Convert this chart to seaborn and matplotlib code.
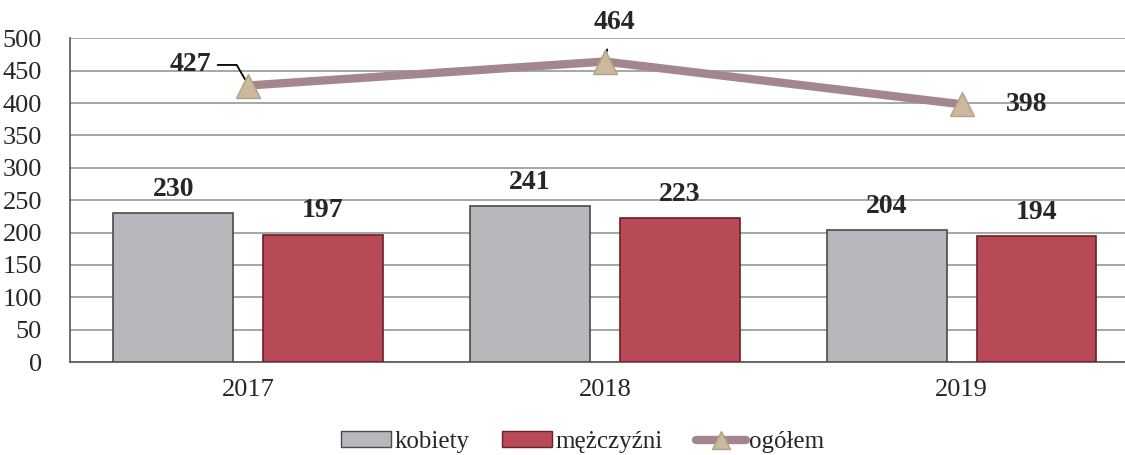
import numpy as np
import pandas as pd
import matplotlib
matplotlib.use("Agg")
import matplotlib.pyplot as plt
import seaborn as sns
from matplotlib.patches import Patch
from matplotlib.lines import Line2D

lata = ["2017", "2018", "2019"]
kobiety = [230, 241, 204]
mezczyzni = [197, 223, 194]
ogolem = [427, 464, 398]

kolor_k = "#b8b7bc"
kolor_m = "#b74a56"
kolor_linia = "#a4868f"
kolor_znacznik = "#cbb99b"

df = pd.DataFrame({
    "rok": lata * 2,
    "wartosc": kobiety + mezczyzni,
    "plec": ["kobiety"] * 3 + ["mężczyźni"] * 3,
})

sns.set_style("white")
plt.rcParams["font.family"] = ["Liberation Serif", "DejaVu Serif"]

fig = plt.figure(figsize=(11.25, 4.55), dpi=100)
ax = fig.add_axes([0.062, 0.204, 0.945, 0.712])

sns.barplot(data=df, x="rok", y="wartosc", hue="plec",
            palette=[kolor_k, kolor_m], saturation=1, width=0.84, gap=0.2,
            ax=ax, legend=False, zorder=3)
krawedzie = ["#4a4a4e", "#6a1f2a"]
for i, cont in enumerate(ax.containers):
    for b in cont:
        b.set_edgecolor(krawedzie[i])
        b.set_linewidth(1.2)
    ax.bar_label(cont, padding=8, fontsize=20, fontweight="bold")

x_pos = np.arange(len(lata))
sns.lineplot(x=x_pos, y=ogolem, ax=ax, color=kolor_linia, linewidth=6,
             marker="^", markersize=17, markerfacecolor=kolor_znacznik,
             markeredgecolor="#b59f86", markeredgewidth=1, zorder=5)

# etykiety linii ogółem
ax.annotate(str(ogolem[0]), xy=(x_pos[0] - 0.005, ogolem[0] + 6),
            xytext=(-40, 12), textcoords="offset points",
            ha="center", va="center", fontsize=20, fontweight="bold",
            arrowprops=dict(arrowstyle="-", color="black", lw=1.3,
                            shrinkA=2, shrinkB=2,
                            connectionstyle="angle,angleA=0,angleB=120,rad=0"))
ax.annotate(str(ogolem[1]), xy=(x_pos[1], ogolem[1] + 6),
            xytext=(7, 25), textcoords="offset points",
            ha="center", va="center", fontsize=20, fontweight="bold",
            arrowprops=dict(arrowstyle="-", color="black", lw=1.3,
                            shrinkA=8, shrinkB=1))
ax.annotate(str(ogolem[2]), xy=(x_pos[2], ogolem[2]),
            xytext=(47, 0), textcoords="offset points",
            ha="center", va="center", fontsize=20, fontweight="bold")

ax.set_ylim(0, 500)
ax.set_yticks(range(0, 501, 50))
ax.set_xlim(-0.5, 2.48)
ax.yaxis.grid(True, color="#8e8e8e", linewidth=1.1, zorder=0)
ax.set_axisbelow(True)
ax.set_xlabel("")
ax.set_ylabel("")
ax.tick_params(axis="y", labelsize=19, length=0, pad=20)
ax.tick_params(axis="x", labelsize=19, length=0, pad=12)
for s in ["top", "right"]:
    ax.spines[s].set_visible(False)
ax.spines["left"].set_color("#555555")
ax.spines["bottom"].set_color("#555555")
ax.spines["left"].set_linewidth(1.2)
ax.spines["bottom"].set_linewidth(1.2)

uchwyty = [
    Patch(facecolor=kolor_k, edgecolor=krawedzie[0], label="kobiety"),
    Patch(facecolor=kolor_m, edgecolor=krawedzie[1], label="mężczyźni"),
    Line2D([0], [0], color=kolor_linia, linewidth=6, marker="^",
           markersize=13, markerfacecolor=kolor_znacznik,
           markeredgecolor="#b59f86", label="ogółem"),
]
fig.legend(handles=uchwyty, loc="lower center", bbox_to_anchor=(0.518, -0.045),
           ncol=3, frameon=False, fontsize=18, handlelength=2.0,
           handleheight=0.6, handletextpad=0.15, columnspacing=1.3)

fig.savefig("out.png", dpi=100)
